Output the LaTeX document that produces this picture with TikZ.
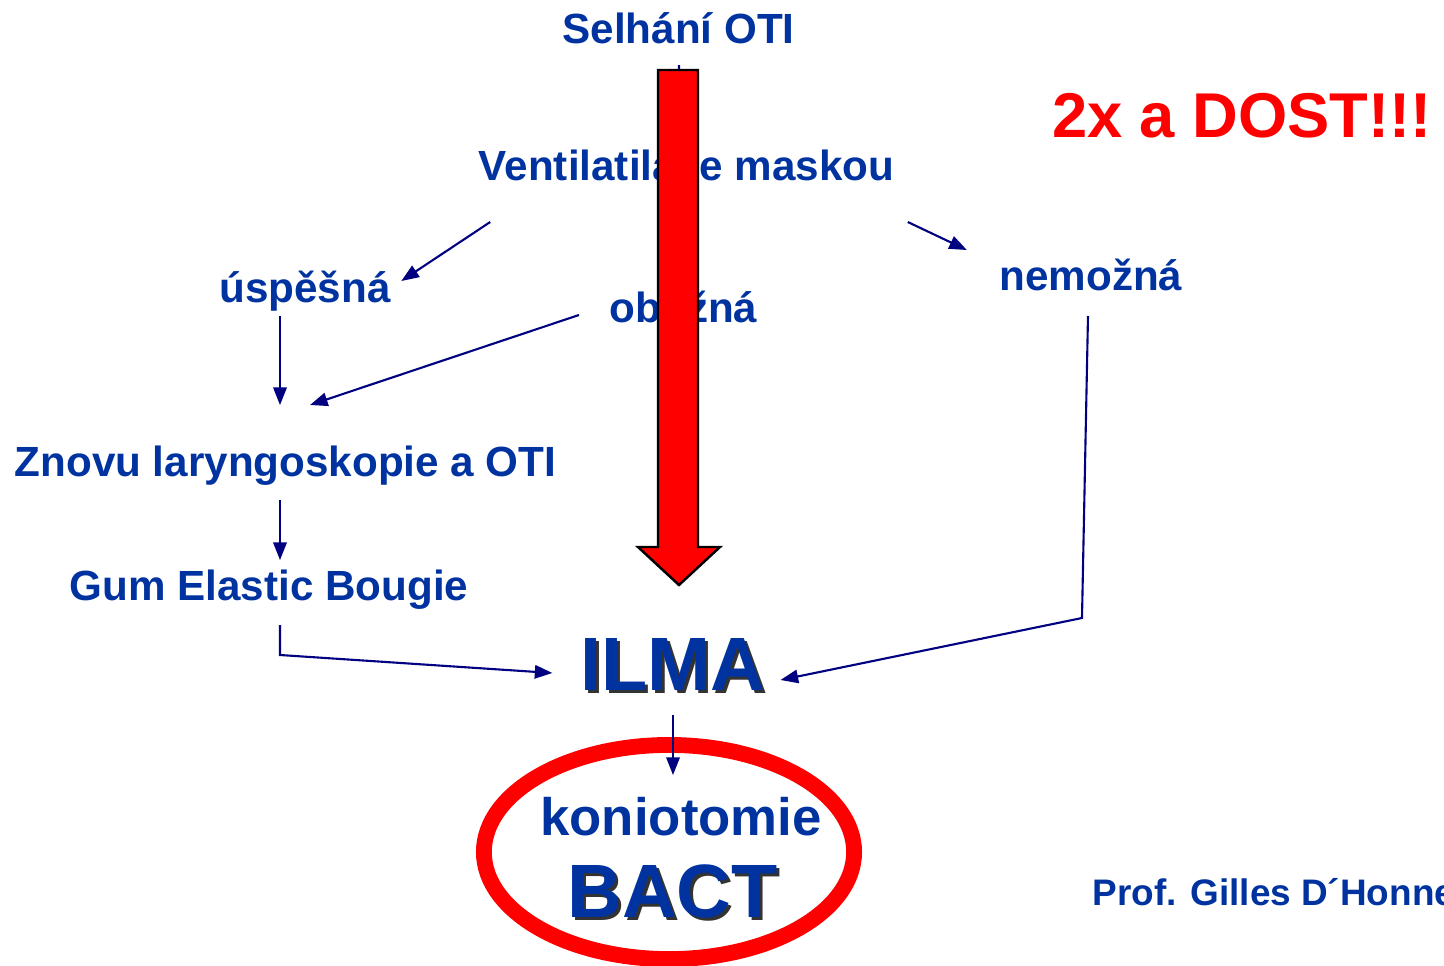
\documentclass[tikz,border=0pt]{standalone}
\usepackage{fontspec}
\setmainfont{Liberation Sans}
\usetikzlibrary{arrows.meta}
\definecolor{txtblue}{RGB}{0,51,160}
\definecolor{linknavy}{RGB}{0,0,128}

\begin{document}
\begin{tikzpicture}[x=0.01cm, y=-0.01cm,
                    every node/.style={inner sep=0pt,
                      anchor=base,
                      text=txtblue,
                      font=\bfseries\fontsize{12}{14}\selectfont},
                    big/.style={font=\bfseries\fontsize{21.5}{24}\selectfont},
                    shade/.style={text=black!80},
                    link/.style={draw=linknavy, line width=0.6pt,
                      -{Triangle[length=5pt,width=3.8pt]}}]
\useasboundingbox (0,0) rectangle (1444,966);
\node (a) at (678.5,43) {Selhání OTI};
\node (b) at (686.5,180) {Ventilatilace maskou};
\node (c) at (305,302) {úspěšná};
\node (d) at (683.5,322) {obtížná};
\node (e) at (1091,290) {nemožná};
\node (f) at (285.5,476) {Znovu laryngoskopie a OTI};
\node (g) at (269,600) {Gum Elastic Bougie};
\node (hs) [big,shade] at (675.5,693) {ILMA};
\node (h) [big] at (672.5,690) {ILMA};
\node (i) [font=\bfseries\fontsize{15}{18}\selectfont] at (681,835) {koniotomie};
\node (js) [big,shade] at (675.5,920) {BACT};
\node (j) [big] at (672.5,917) {BACT};
\node (k) [text=red, font=\bfseries\fontsize{18}{21}\selectfont] at (1242,137) {2x a DOST!!!};
\node (l) [anchor=base west, font=\bfseries\fontsize{10.5}{12}\selectfont] at (1092,905) {Prof. Gilles D´Honne};
% connectors
\draw[link] ([shift={(0.5,22)}]a.base) -- ([shift={(-7,-40)}]b.base);
\draw[link] ([shift={(12,42)}]b.base west) -- ([shift={(10,-21)}]c.base east);
\draw[link] ([shift={(-30,-7)}]d.base west) -- ([shift={(24.5,-71)}]f.base);
\draw[link] ([shift={(-25,14)}]c.base) -- ([shift={(-5.5,-71)}]f.base);
\draw[link] ([shift={(13,42)}]b.base east) -- ([shift={(-32,-40)}]e.base west);
\draw[link] ([shift={(-3,26)}]e.base) -- (1082,618) -- ([shift={(15,-10)}]h.base east);
\draw[link] ([shift={(-5.5,24)}]f.base) -- ([shift={(11,-40)}]g.base);
\draw[link] ([shift={(11,25)}]g.base) -- (280,655) -- ([shift={(-27,-17)}]h.base west);
% the big red arrow
\draw[fill=red, draw=black, line width=0.7pt, line join=miter]
  (658,70) -- (698,70) -- (698,547) -- (720,547) -- (679,585)
  -- (638,547) -- (658,547) -- cycle;
\draw[red, line width=4.5pt] (669,852) ellipse [x radius=1.85cm, y radius=1.07cm];
\draw[link] ([shift={(0.5,25)}]h.base) -- ([shift={(-8,-60)}]i.base);
\end{tikzpicture}
\end{document}
